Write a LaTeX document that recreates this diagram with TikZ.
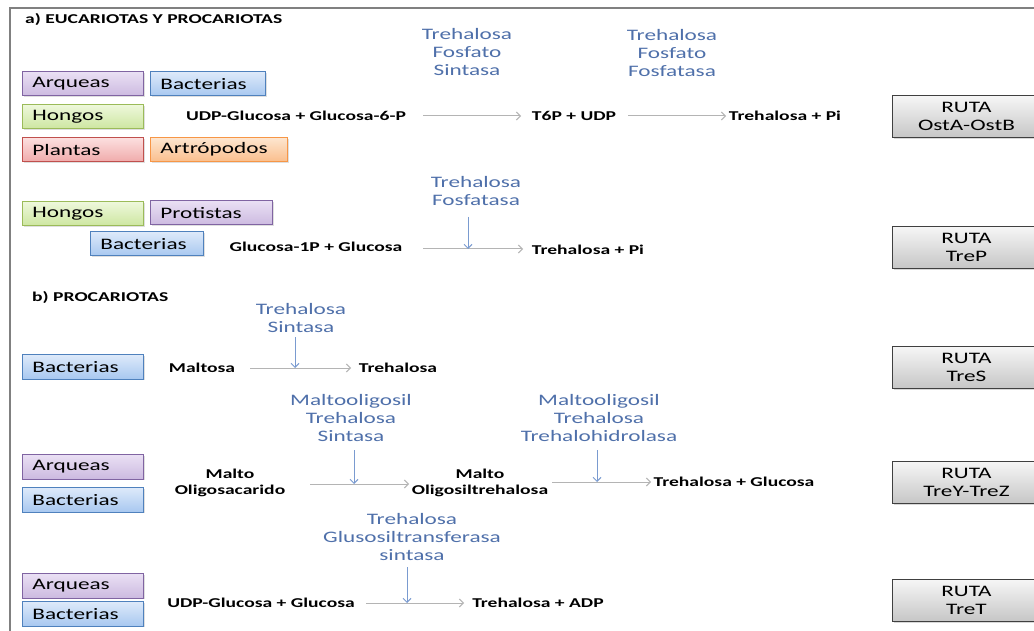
\documentclass[tikz,border=0pt]{standalone}
\usepackage{fontspec}
\setmainfont{Carlito}[FakeStretch=1.45]
\usetikzlibrary{arrows.meta,shadows}
\definecolor{framegray}{RGB}{128,128,128}
\definecolor{enzblue}{RGB}{79,112,170}
\definecolor{varrow}{RGB}{122,155,208}
\definecolor{harrow}{RGB}{180,180,180}
\definecolor{pB}{RGB}{128,100,162}\definecolor{pT}{RGB}{234,224,244}\definecolor{pL}{RGB}{204,186,224}
\definecolor{bB}{RGB}{79,129,189}\definecolor{bT}{RGB}{222,234,250}\definecolor{bL}{RGB}{168,200,240}
\definecolor{gB}{RGB}{155,187,89}\definecolor{gT}{RGB}{238,248,220}\definecolor{gL}{RGB}{205,230,160}
\definecolor{rB}{RGB}{192,80,77}\definecolor{rT}{RGB}{252,224,224}\definecolor{rL}{RGB}{240,170,170}
\definecolor{oB}{RGB}{247,150,70}\definecolor{oT}{RGB}{253,230,208}\definecolor{oL}{RGB}{250,190,140}
\definecolor{kB}{RGB}{64,64,64}\definecolor{kT}{RGB}{246,246,246}\definecolor{kL}{RGB}{198,198,198}
\tikzset{
  org/.style={line width=0.9pt, minimum height=24.5pt, inner ysep=0pt, inner xsep=10pt,
    align=left, anchor=north west, font=\fontsize{16}{18}\selectfont,
    drop shadow={opacity=0.25, shadow xshift=1.2pt, shadow yshift=-1.5pt}},
  purplebox/.style={org, draw=pB, top color=pT, bottom color=pL},
  bluebox/.style={org, draw=bB, top color=bT, bottom color=bL},
  greenbox/.style={org, draw=gB, top color=gT, bottom color=gL},
  redbox/.style={org, draw=rB, top color=rT, bottom color=rL},
  orangebox/.style={org, draw=oB, top color=oT, bottom color=oL},
  rutabox/.style={draw=kB, line width=0.9pt, top color=kT, bottom color=kL,
    minimum width=148pt, minimum height=42pt, inner sep=0pt, align=center,
    anchor=north west, font=\fontsize{16}{18}\selectfont,
    drop shadow={opacity=0.3, shadow xshift=1.5pt, shadow yshift=-1.5pt}},
  enz/.style={text=enzblue, align=center, inner sep=0pt, font=\fontsize{16}{18}\selectfont},
  chem/.style={align=center, inner sep=0pt, font=\bfseries\fontsize{13.5}{16}\selectfont},
  sect/.style={anchor=west, inner sep=0pt, font=\bfseries\fontsize{13.5}{16}\selectfont},
  harr/.style={draw=harrow, line width=1pt, -{Straight Barb[length=4pt,width=8pt]}},
  varr/.style={draw=varrow, line width=1pt, -{Straight Barb[length=4pt,width=8pt]}},
}
\begin{document}
\begin{tikzpicture}[x=1pt,y=-1pt]
\clip (0,0) rectangle (1034,631);
\fill[white] (0,0) rectangle (1034,631);
\draw[framegray, line width=2.5pt] (10,640) -- (10,8) -- (1040,8);

% ---------- section a ----------
\node[sect] (ta) at (25,20) {a) EUCARIOTAS Y PROCARIOTAS};

\node[purplebox, text width=101pt] (a1arq) at (22,71) {Arqueas};
\node[bluebox, text width=95pt] (a1bac) at (150,71) {Bacterias};
\node[greenbox, text width=101pt] (a1hon) at (22,104) {Hongos};
\node[redbox, text width=101pt] (a1pla) at (22,137) {Plantas};
\node[orangebox, text width=117pt] (a1art) at (150,137) {Artrópodos};

\node[enz] (e1) at (467,52) {Trehalosa\\Fosfato\\Sintasa};
\node[enz] (e2) at (672,53) {Trehalosa\\Fosfato\\Fosfatasa};
\node[chem] (udp1) at (296,116) {UDP-Glucosa + Glucosa-6-P};
\node[chem] (t6p) at (574,116) {T6P + UDP};
\node[chem] (tpi1) at (785,116) {Trehalosa + Pi};
\coordinate (h1a) at (423,116); \coordinate (h1b) at (521,116);
\coordinate (h2a) at (628,116); \coordinate (h2b) at (726,116);
\draw[harr] (h1a) -- (h1b);
\draw[harr] (h2a) -- (h2b);
\node[rutabox] (r1) at (892,95) {RUTA\\OstA-OstB};

\node[greenbox, text width=101pt] (a2hon) at (22,201) {Hongos};
\node[purplebox, text width=102pt] (a2pro) at (150,200) {Protistas};
\node[bluebox, text width=93pt] (a2bac) at (90,231) {Bacterias};
\node[enz] (e3) at (476,191) {Trehalosa\\Fosfatasa};
\node[chem] (g1p) at (316,247) {Glucosa-1P + Glucosa};
\node[chem] (tpi2) at (588,250) {Trehalosa + Pi};
\coordinate (h3a) at (423,249); \coordinate (h3b) at (523,249);
\coordinate (v3a) at (468,217); \coordinate (v3b) at (468,249);
\draw[harr] (h3a) -- (h3b);
\draw[varr] (v3a) -- (v3b);
\node[rutabox] (r2) at (892,226) {RUTA\\TreP};

% ---------- section b ----------
\node[sect] (tb) at (32,298) {b) PROCARIOTAS};

\node[bluebox, text width=101pt] (b1bac) at (22,354) {Bacterias};
\node[enz] (e4) at (301,318) {Trehalosa\\Sintasa};
\node[chem] (mal) at (202,368) {Maltosa};
\node[chem] (tre) at (398,368) {Trehalosa};
\coordinate (h4a) at (250,368); \coordinate (h4b) at (351,368);
\coordinate (v4a) at (295,337); \coordinate (v4b) at (295,368);
\draw[harr] (h4a) -- (h4b);
\draw[varr] (v4a) -- (v4b);
\node[rutabox] (r3) at (892,346) {RUTA\\TreS};

\node[purplebox, text width=101pt] (b2arq) at (22,454) {Arqueas};
\node[bluebox, text width=101pt] (b2bac) at (22,487) {Bacterias};
\node[enz] (e5) at (351,418) {Maltooligosil\\Trehalosa\\Sintasa};
\node[enz] (e6) at (599,418) {Maltooligosil\\Trehalosa\\Trehalohidrolasa};
\node[chem] (mos) at (230,483) {Malto\\Oligosacarido};
\node[chem] (mot) at (480,483) {Malto\\Oligosiltrehalosa};
\node[chem] (tgl) at (734,482) {Trehalosa + Glucosa};
\coordinate (h5a) at (310,484); \coordinate (h5b) at (409,484);
\coordinate (v5a) at (354,450); \coordinate (v5b) at (354,484);
\coordinate (h6a) at (552,482); \coordinate (h6b) at (651,482);
\coordinate (v6a) at (597,450); \coordinate (v6b) at (597,482);
\draw[harr] (h5a) -- (h5b);
\draw[varr] (v5a) -- (v5b);
\draw[harr] (h6a) -- (h6b);
\draw[varr] (v6a) -- (v6b);
\node[rutabox] (r4) at (892,461) {RUTA\\TreY-TreZ};

\node[purplebox, text width=101pt] (b3arq) at (22,573) {Arqueas};
\node[bluebox, text width=101pt] (b3bac) at (22,601) {Bacterias};
\node[enz] (e7) at (412,537) {Trehalosa\\Glusosiltransferasa\\sintasa};
\node[chem] (udp2) at (261,603) {UDP-Glucosa + Glucosa};
\node[chem] (tadp) at (538,603) {Trehalosa + ADP};
\coordinate (h7a) at (366,603); \coordinate (h7b) at (464,603);
\coordinate (v7a) at (407,567); \coordinate (v7b) at (407,603);
\draw[harr] (h7a) -- (h7b);
\draw[varr] (v7a) -- (v7b);
\node[rutabox] (r5) at (892,579) {RUTA\\TreT};
\end{tikzpicture}
\end{document}
